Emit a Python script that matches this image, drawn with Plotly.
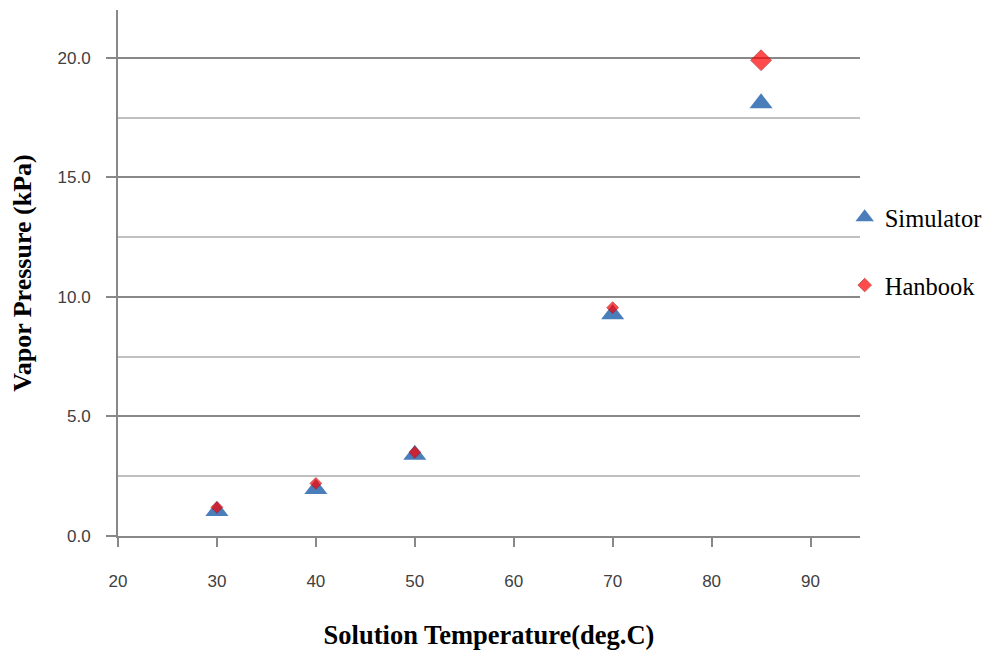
import plotly.graph_objects as go

temperature = [30, 40, 50, 70, 85]
simulator = [1.05, 1.97, 3.4, 9.27, 18.1]
handbook = [1.2, 2.2, 3.5, 9.55, 19.9]
handbook_sizes = [9, 9, 9, 9, 16]

x_ticks = [20, 30, 40, 50, 60, 70, 80, 90]
y_ticks = [0, 5, 10, 15, 20]
y_tick_labels = ["0.0", "5.0", "10.0", "15.0", "20.0"]

fig = go.Figure()
fig.add_trace(go.Scatter(
    x=temperature, y=simulator, mode="markers", name="Simulator",
    marker=dict(symbol="triangle-up", size=20, color="#4a7ebb",
                line=dict(width=0)),
    legendgroup="a",
))
fig.add_trace(go.Scatter(
    x=temperature, y=handbook, mode="markers", name="Hanbook",
    marker=dict(symbol="diamond", size=handbook_sizes, color="#ff0000",
                line=dict(width=1, color="#b01010")),
    legendgroup="b",
))

fig.update_layout(
    width=989, height=642,
    paper_bgcolor="white", plot_bgcolor="white",
    margin=dict(l=110, r=137, t=2, b=114, autoexpand=False),
    showlegend=True,
    legend=dict(xref="container", yref="container",
                x=0.846, y=0.621, xanchor="left", yanchor="middle",
                font=dict(family="Liberation Serif", size=24.5, color="#000"),
                tracegroupgap=33, bgcolor="rgba(0,0,0,0)",
                itemsizing="trace"),
    xaxis=dict(
        range=[20, 95], tickmode="array", tickvals=x_ticks,
        showline=True, linecolor="#888888", linewidth=2,
        ticks="outside", ticklen=9, tickcolor="#888888", tickwidth=2,
        showgrid=False, zeroline=False,
        tickfont=dict(family="Liberation Sans", size=17, color="#404040"),
        ticklabelstandoff=20,
        title=dict(text="<b>Solution Temperature(deg.C)</b>", standoff=37,
                   font=dict(family="Liberation Serif", size=26.5, color="#000")),
    ),
    yaxis=dict(
        range=[0, 22], tickmode="array", tickvals=y_ticks, ticktext=y_tick_labels,
        showline=True, linecolor="#888888", linewidth=2,
        ticks="outside", ticklen=10, tickcolor="#888888", tickwidth=2,
        showgrid=True, gridcolor="#888888", gridwidth=2,
        zeroline=False,
        minor=dict(dtick=2.5, tick0=0, showgrid=True, gridcolor="#c0c0c0",
                   gridwidth=2, ticks=""),
        tickfont=dict(family="Liberation Sans", size=17, color="#404040"),
        ticklabelstandoff=12,
        title=dict(text="<b>Vapor Pressure (kPa)</b>", standoff=18,
                   font=dict(family="Liberation Serif", size=26, color="#000")),
    ),
)

fig.write_html("out.html")
